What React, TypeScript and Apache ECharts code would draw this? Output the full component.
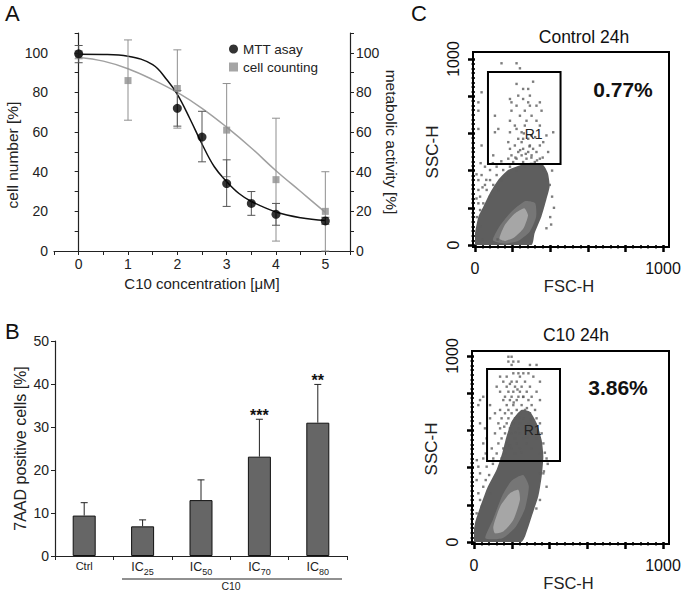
import React, { useEffect, useRef } from 'react';
import * as echarts from 'echarts';

// ---------- Panel A data ----------
const mttX = [0, 2, 2.5, 3, 3.5, 4, 5];
const mttY = [99.5, 72, 57.5, 34, 24, 18.5, 15.2];
const mttLo = [95, 63, 45, 22.5, 18, 13, 13.5];
const mttHi = [103.7, 81, 70.5, 46, 30, 24, 17];
const cntX = [0, 1, 2, 3, 4, 5];
const cntY = [99, 86, 82, 61, 36, 20];
const cntLo = [97, 66, 62, 37.5, 5, 0];
const cntHi = [101, 106.5, 101.5, 84.5, 67, 40];
const mttFitX = [0, 0.5, 1, 1.5, 1.8, 2, 2.25, 2.5, 2.75, 3, 3.25, 3.5, 4, 4.5, 5];
const mttFitY = [99.3, 99.2, 98.3, 94, 86, 79, 67, 54, 42.5, 35, 29, 25, 19.7, 16.8, 15.4];
const cntFitX = [0, 0.5, 1, 1.5, 2, 2.5, 3, 3.5, 4, 4.5, 5];
const cntFitY = [97.8, 95.8, 92, 86.5, 80, 72, 62.5, 52, 40.5, 30, 19.5];

// ---------- Panel B data ----------
const bCats = ['Ctrl', 'IC25', 'IC50', 'IC70', 'IC80'];
const bVals = [9.4, 6.9, 13, 23.1, 31];
const bErrHi = [12.4, 8.4, 17.7, 31.8, 39.9];
const bStars = ['', '', '', '***', '**'];

// ---------- Panel C data ----------
const gate = [69, 435, 455, 930];
const ctrlR1 = [312, 597];
const c10R1 = [310, 600];

const ctrlDense = [[0, 0], [300, 0], [317, 63], [353, 152], [379, 242], [397, 314], [388, 385], [362, 430], [300, 442], [247, 432], [176, 403], [123, 349], [79, 278], [44, 206], [18, 152], [0, 63]];
const ctrlMid = [[95, 25], [130, 100], [190, 175], [265, 235], [320, 225], [325, 150], [290, 70], [225, 20], [150, 8]];
const ctrlCore = [[130, 35], [160, 110], [210, 168], [262, 198], [282, 160], [258, 90], [210, 42], [160, 22]];
const ctrlDots = [
  [53, 1008], [97, 1012], [141, 1010], [203, 1006], [230, 1012], [256, 1008], [283, 1010], [363, 1005],
  [141, 977], [221, 977], [239, 950],
  [309, 878], [221, 866], [256, 839], [283, 839], [35, 821], [230, 803], [292, 803],
  [186, 785], [256, 785], [18, 767], [194, 767], [283, 767], [345, 767],
  [221, 749], [292, 749], [327, 749], [18, 722], [194, 722], [265, 722], [354, 722],
  [106, 695], [239, 695], [301, 695], [186, 668], [274, 668], [327, 668],
  [212, 642], [265, 642], [345, 642], [18, 624], [124, 624], [221, 624],
  [106, 606], [186, 606], [248, 606], [416, 606], [301, 589], [380, 589],
  [230, 571], [256, 571], [283, 571], [177, 553], [248, 553], [363, 553],
  [35, 535], [212, 535], [292, 535], [345, 535], [186, 517], [256, 517], [309, 517],
  [230, 500], [283, 500], [327, 500], [389, 500], [97, 482], [194, 482], [248, 482], [301, 482],
  [177, 464], [221, 464], [274, 464], [345, 464], [203, 446], [256, 446], [318, 446],
  [240, 510], [270, 490], [300, 470], [330, 455], [360, 470], [215, 470], [290, 530], [320, 580], [260, 600],
  [53, 421], [115, 421], [186, 421], [265, 421], [345, 421],
  [80, 403], [150, 403], [221, 403], [363, 403],
  [35, 376], [115, 376], [177, 376], [18, 349], [80, 349], [141, 349], [380, 349],
  [53, 323], [97, 323], [398, 323], [18, 296], [62, 296], [124, 296],
  [27, 260], [80, 260], [18, 224], [44, 224], [27, 188],
  [410, 260], [420, 200], [400, 150], [380, 90], [10, 150], [30, 100], [15, 50], [40, 30], [120, 30],
  [8, 250], [40, 310], [60, 350], [8, 380], [30, 440], [95, 440], [140, 450], [410, 400], [405, 110]
];

const c10Dense = [[0, 0], [250, 0], [270, 30], [305, 136], [340, 244], [358, 351], [367, 459], [358, 548], [332, 638], [296, 700], [250, 710], [200, 650], [170, 560], [150, 480], [120, 390], [70, 290], [30, 180], [5, 100]];
const c10Mid = [[60, 20], [100, 120], [150, 250], [200, 330], [260, 360], [290, 300], [270, 180], [220, 80], [150, 20]];
const c10Core = [[102, 81], [138, 190], [190, 262], [235, 280], [243, 226], [208, 118], [155, 56], [111, 47]];
const c10Dots = [
  [49, 1015], [76, 1015], [102, 1015], [129, 1015], [155, 1015], [182, 1015], [208, 1015], [235, 1015], [261, 1015], [288, 1015], [314, 1015], [349, 1015], [384, 1015],
  [62, 1008], [90, 1008], [116, 1008], [142, 1008], [168, 1008], [195, 1008], [222, 1008], [248, 1008], [275, 1008], [300, 1008], [330, 1008],
  [182, 996], [199, 996], [182, 970], [208, 970], [235, 970], [199, 952], [296, 952], [331, 952],
  [208, 907], [235, 907], [261, 907], [288, 907], [138, 889], [173, 889], [243, 889], [314, 889],
  [155, 862], [199, 862], [226, 862], [270, 862], [349, 862],
  [120, 835], [173, 835], [217, 835], [252, 835], [296, 835],
  [138, 808], [182, 808], [208, 808], [243, 808], [279, 808], [331, 808],
  [49, 781], [164, 781], [199, 781], [235, 781], [261, 781], [305, 781],
  [32, 763], [155, 763], [190, 763], [226, 763], [288, 763], [349, 763],
  [23, 736], [85, 736], [173, 736], [208, 736], [252, 736], [305, 736],
  [138, 710], [182, 710], [226, 710], [270, 710], [323, 710],
  [111, 692], [164, 692], [199, 692], [243, 692], [296, 692],
  [85, 665], [146, 665], [182, 665], [217, 665], [261, 665], [331, 665],
  [32, 638], [129, 638], [173, 638], [208, 638], [243, 638], [288, 638], [349, 638],
  [58, 611], [138, 611], [190, 611], [235, 611], [270, 611], [314, 611],
  [111, 584], [164, 584], [199, 584], [243, 584], [296, 584], [358, 584],
  [67, 557], [146, 557], [182, 557], [217, 557], [261, 557], [331, 557],
  [49, 530], [129, 530], [173, 530], [226, 530], [279, 530], [367, 530],
  [94, 503], [155, 503], [199, 503], [243, 503], [305, 503],
  [62, 476], [120, 476], [164, 476], [217, 476], [349, 476],
  [49, 449], [102, 449], [146, 449], [384, 449],
  [190, 850], [230, 820], [260, 780], [210, 750], [280, 720], [240, 670], [300, 660], [160, 620], [220, 590], [280, 560], [190, 520], [250, 480],
  [23, 405], [67, 405], [32, 369], [349, 369], [367, 369], [14, 333], [62, 333],
  [49, 297], [384, 297], [23, 262], [85, 262], [32, 226], [349, 226], [41, 190], [14, 154],
  [375, 480], [390, 420], [370, 380], [330, 180], [100, 420], [80, 360], [15, 440]
];

const FONT = 'Liberation Sans, Arial, Helvetica, sans-serif';

function polygonSeries(xi: number, yi: number, pts: number[][], color: string) {
  return {
    type: 'custom', xAxisIndex: xi, yAxisIndex: yi, silent: true, clip: true,
    data: [[0, 0]],
    renderItem: (_p: any, api: any) => ({
      type: 'polygon',
      shape: { points: pts.map((p) => api.coord(p)), smooth: 0.2 },
      style: { fill: color, stroke: 'none' },
    }),
  };
}

function gateSeries(xi: number, yi: number, r1: number[]) {
  return {
    type: 'custom', xAxisIndex: xi, yAxisIndex: yi, silent: true, z: 5,
    data: [[gate[0], gate[1], gate[2], gate[3], r1[0], r1[1]]],
    renderItem: (_p: any, api: any) => {
      const a = api.coord([api.value(0), api.value(3)]);
      const b = api.coord([api.value(2), api.value(1)]);
      const t = api.coord([api.value(4), api.value(5)]);
      return {
        type: 'group', children: [
          { type: 'rect', shape: { x: a[0], y: a[1], width: b[0] - a[0], height: b[1] - a[1] }, style: { fill: 'none', stroke: '#000', lineWidth: 2 } },
          { type: 'text', x: t[0], y: t[1], style: { text: 'R1', fill: '#222', font: `14px ${FONT}`, align: 'center', verticalAlign: 'middle' } },
        ],
      };
    },
  };
}

function dotSeries(xi: number, yi: number, pts: number[][]) {
  return {
    type: 'scatter', xAxisIndex: xi, yAxisIndex: yi, silent: true, symbol: 'rect', symbolSize: 2.4,
    itemStyle: { color: '#5c5c5c' }, data: pts, z: 3,
  };
}

function errSeries(xs: number[], lo: number[], hi: number[], color: string) {
  return {
    type: 'custom', xAxisIndex: 0, yAxisIndex: 0, silent: true, z: 2,
    data: xs.map((x, i) => [x, lo[i], hi[i]]),
    encode: { x: 0, y: [1, 2] },
    renderItem: (_p: any, api: any) => {
      const l = api.coord([api.value(0), api.value(1)]);
      const h = api.coord([api.value(0), api.value(2)]);
      const w = 4;
      const st = { stroke: color, lineWidth: 1 };
      return {
        type: 'group', children: [
          { type: 'line', shape: { x1: l[0], y1: l[1], x2: h[0], y2: h[1] }, style: st },
          { type: 'line', shape: { x1: l[0] - w, y1: l[1], x2: l[0] + w, y2: l[1] }, style: st },
          { type: 'line', shape: { x1: h[0] - w, y1: h[1], x2: h[0] + w, y2: h[1] }, style: st },
        ],
      };
    },
  };
}

const facsX = (grid: number, offset: number) => ({
  type: 'value', gridIndex: grid, min: 0, max: 1000, interval: 200, offset,
  name: 'FSC-H', nameLocation: 'middle', nameGap: 30,
  nameTextStyle: { fontSize: 16.5, color: '#222', fontFamily: FONT },
  axisLine: { show: false },
  axisTick: { show: true, length: 7, lineStyle: { width: 2.5, color: '#000' } },
  minorTick: { show: true, splitNumber: 5, length: 3.5, lineStyle: { width: 1.6, color: '#000' } },
  splitLine: { show: false },
  axisLabel: { fontSize: 16, color: '#111', margin: 13, formatter: (v: number) => (v === 0 || v === 1000 ? String(v) : '') },
});
const facsY = (grid: number, offset: number) => ({
  type: 'value', gridIndex: grid, min: 0, max: 1000, interval: 200, offset,
  name: 'SSC-H', nameLocation: 'middle', nameGap: 32,
  nameTextStyle: { fontSize: 17, color: '#222', fontFamily: FONT },
  axisLine: { show: false },
  axisTick: { show: true, length: 7, lineStyle: { width: 2.5, color: '#000' } },
  minorTick: { show: true, splitNumber: 8, length: 3.5, lineStyle: { width: 1.6, color: '#000' } },
  splitLine: { show: false },
  axisLabel: { fontSize: 16, color: '#111', rotate: 90, margin: 12, formatter: (v: number) => (v === 0 || v === 1000 ? String(v) : '') },
});
const hiddenAxis = (grid: number) => ({ type: 'value', gridIndex: grid, show: false, min: 0, max: 1 });

export default function App() {
  const ref = useRef<HTMLDivElement>(null);
  useEffect(() => {
    if (!ref.current) return;
    const chart = echarts.init(ref.current, undefined, { renderer: 'svg' });
    const tickA = { show: true, length: 4, lineStyle: { color: '#222', width: 1 } };
    const labelA = { fontSize: 14, color: '#222', fontFamily: FONT };
    const option: any = {
      animation: false,
      textStyle: { fontFamily: FONT },
      grid: [
        { left: 54, top: 33, width: 296, height: 218 },
        { left: 55, top: 341, width: 292, height: 215 },
        { left: 475, top: 59, width: 188, height: 186 },
        { left: 473, top: 52, width: 196, height: 195, show: true, borderColor: '#000', borderWidth: 2, backgroundColor: 'transparent' },
        { left: 474, top: 356, width: 189, height: 186 },
        { left: 472, top: 351, width: 197, height: 193, show: true, borderColor: '#000', borderWidth: 2, backgroundColor: 'transparent' },
      ],
      legend: {
        left: 224, top: 37, orient: 'vertical', itemGap: 4, itemWidth: 9, itemHeight: 9,
        textStyle: { fontSize: 13.5, color: '#222', fontFamily: FONT },
        data: [{ name: 'MTT asay', icon: 'circle' }, { name: 'cell counting', icon: 'rect' }],
      },
      xAxis: [
        {
          type: 'value', gridIndex: 0, min: -0.5, max: 5.5, interval: 0.5,
          name: 'C10 concentration [μM]', nameLocation: 'middle', nameGap: 25,
          nameTextStyle: { fontSize: 15, color: '#222', fontFamily: FONT },
          axisLine: { lineStyle: { color: '#222', width: 1.2 } },
          axisTick: tickA, splitLine: { show: false },
          axisLabel: { ...labelA, margin: 6, formatter: (v: number) => (Number.isInteger(v) && v >= 0 && v <= 5 ? String(v) : '') },
        },
        {
          type: 'category', gridIndex: 1, data: bCats,
          axisLine: { lineStyle: { color: '#222', width: 1.2 } },
          axisTick: { show: true, length: 4, lineStyle: { color: '#222' } },
          axisLabel: {
            interval: 0, margin: 4, color: '#222', fontSize: 12, fontFamily: FONT,
            formatter: (v: string) => (v === 'Ctrl' ? '{c|Ctrl}' : `{m|IC}{s|${v.slice(2)}}`),
            rich: {
              c: { fontSize: 11, color: '#222', fontFamily: FONT, lineHeight: 13, verticalAlign: 'top' },
              m: { fontSize: 12.5, color: '#222', fontFamily: FONT, lineHeight: 14, verticalAlign: 'top' },
              s: { fontSize: 9, color: '#222', fontFamily: FONT, lineHeight: 10, padding: [7, 0, 0, 0], verticalAlign: 'top' },
            },
          },
        },
        facsX(2, 2),
        hiddenAxis(3),
        facsX(4, 2),
        hiddenAxis(5),
      ],
      yAxis: [
        {
          type: 'value', gridIndex: 0, min: 0, max: 110, interval: 10,
          name: 'cell number [%]', nameLocation: 'middle', nameGap: 34,
          nameTextStyle: { fontSize: 15.5, color: '#222', fontFamily: FONT, padding: [0, 26, 0, 0] },
          axisLine: { show: true, lineStyle: { color: '#222', width: 1.2 } },
          axisTick: tickA, splitLine: { show: false },
          axisLabel: { ...labelA, margin: 6, formatter: (v: number) => (v % 20 === 0 && v <= 100 ? String(v) : '') },
        },
        {
          type: 'value', gridIndex: 0, position: 'right', min: 0, max: 110, interval: 10,
          name: 'metabolic activity [%]', nameLocation: 'middle', nameGap: 33, nameRotate: -90,
          nameTextStyle: { fontSize: 15.5, color: '#222', fontFamily: FONT },
          axisLine: { show: true, lineStyle: { color: '#222', width: 1.2 } },
          axisTick: tickA, splitLine: { show: false },
          axisLabel: { ...labelA, margin: 6, formatter: (v: number) => (v % 20 === 0 && v <= 100 ? String(v) : '') },
        },
        {
          type: 'value', gridIndex: 1, min: 0, max: 50, interval: 10,
          name: '7AAD positive cells [%]', nameLocation: 'middle', nameGap: 27,
          nameTextStyle: { fontSize: 16, color: '#222', fontFamily: FONT },
          axisLine: { show: true, lineStyle: { color: '#222', width: 1.2 } },
          axisTick: tickA, splitLine: { show: false },
          axisLabel: { ...labelA, margin: 6 },
        },
        facsY(2, 2),
        hiddenAxis(3),
        facsY(4, 2),
        hiddenAxis(5),
      ],
      series: [
        // Panel A
        {
          type: 'line', xAxisIndex: 0, yAxisIndex: 0, smooth: 0.4, showSymbol: false, silent: true,
          data: cntFitX.map((x, i) => [x, cntFitY[i]]), lineStyle: { color: '#a0a0a0', width: 1.5 }, z: 1,
        },
        {
          type: 'line', xAxisIndex: 0, yAxisIndex: 0, smooth: 0.4, showSymbol: false, silent: true,
          data: mttFitX.map((x, i) => [x, mttFitY[i]]), lineStyle: { color: '#111', width: 1.5 }, z: 1,
        },
        errSeries(cntX, cntLo, cntHi, '#8f8f8f'),
        errSeries(mttX, mttLo, mttHi, '#555'),
        {
          name: 'cell counting', type: 'scatter', xAxisIndex: 0, yAxisIndex: 0, symbol: 'rect', symbolSize: 7,
          itemStyle: { color: '#8f8f8f' }, data: cntX.map((x, i) => [x, cntY[i]]), z: 3,
        },
        {
          name: 'MTT asay', type: 'scatter', xAxisIndex: 0, yAxisIndex: 0, symbol: 'circle', symbolSize: 9,
          itemStyle: { color: '#000' }, data: mttX.map((x, i) => [x, mttY[i]]), z: 4,
        },
        // Panel B
        {
          type: 'bar', xAxisIndex: 1, yAxisIndex: 2, barWidth: 23, data: bVals,
          itemStyle: { color: '#666', borderColor: '#111', borderWidth: 1 }, silent: true,
        },
        {
          type: 'custom', xAxisIndex: 1, yAxisIndex: 2, silent: true, z: 3,
          data: bCats.map((c, i) => [i, bVals[i], bErrHi[i]]),
          encode: { x: 0, y: [1, 2] },
          renderItem: (p: any, api: any) => {
            const b = api.coord([api.value(0), api.value(1)]);
            const t = api.coord([api.value(0), api.value(2)]);
            const st = { stroke: '#222', lineWidth: 1 };
            return {
              type: 'group', children: [
                { type: 'line', shape: { x1: b[0], y1: b[1], x2: t[0], y2: t[1] }, style: st },
                { type: 'line', shape: { x1: t[0] - 3.5, y1: t[1], x2: t[0] + 3.5, y2: t[1] }, style: st },
                { type: 'text', x: t[0], y: t[1] - 4, style: { text: bStars[p.dataIndex], fill: '#111', font: `bold 16px ${FONT}`, align: 'center', verticalAlign: 'middle' } },
              ],
            };
          },
        },
        // Panel C top (Control)
        polygonSeries(2, 3, ctrlDense, '#5e5e5e'),
        polygonSeries(2, 3, ctrlMid, '#767676'),
        polygonSeries(2, 3, ctrlCore, '#a6a6a6'),
        dotSeries(2, 3, ctrlDots),
        gateSeries(2, 3, ctrlR1),
        // Panel C bottom (C10)
        polygonSeries(4, 5, c10Dense, '#5e5e5e'),
        polygonSeries(4, 5, c10Mid, '#767676'),
        polygonSeries(4, 5, c10Core, '#a6a6a6'),
        dotSeries(4, 5, c10Dots),
        gateSeries(4, 5, c10R1),
      ],
      graphic: [
        { type: 'text', left: 5, top: 2, style: { text: 'A', font: `22px ${FONT}`, fill: '#111' } },
        { type: 'text', left: 5, top: 320, style: { text: 'B', font: `22px ${FONT}`, fill: '#111' } },
        { type: 'text', left: 411, top: 2, style: { text: 'C', font: `22px ${FONT}`, fill: '#111' } },
        { type: 'text', x: 584, y: 37, style: { text: 'Control 24h', font: `17.5px ${FONT}`, fill: '#111', align: 'center', verticalAlign: 'middle' } },
        { type: 'text', x: 576, y: 335, style: { text: 'C10 24h', font: `17.5px ${FONT}`, fill: '#111', align: 'center', verticalAlign: 'middle' } },
        { type: 'text', x: 623, y: 89, style: { text: '0.77%', font: `bold 21px ${FONT}`, fill: '#111', align: 'center', verticalAlign: 'middle' } },
        { type: 'text', x: 618, y: 387, style: { text: '3.86%', font: `bold 21px ${FONT}`, fill: '#111', align: 'center', verticalAlign: 'middle' } },
        { type: 'line', shape: { x1: 122, y1: 579, x2: 342, y2: 579 }, style: { stroke: '#222', lineWidth: 1 } },
        { type: 'text', x: 231, y: 586, style: { text: 'C10', font: `10.5px ${FONT}`, fill: '#222', align: 'center', verticalAlign: 'middle' } },
      ],
    };
    chart.setOption(option);
    return () => chart.dispose();
  }, []);
  return <div ref={ref} style={{ position: 'fixed', left: 0, top: 0, width: 685, height: 592, background: '#fff' }} />;
}
